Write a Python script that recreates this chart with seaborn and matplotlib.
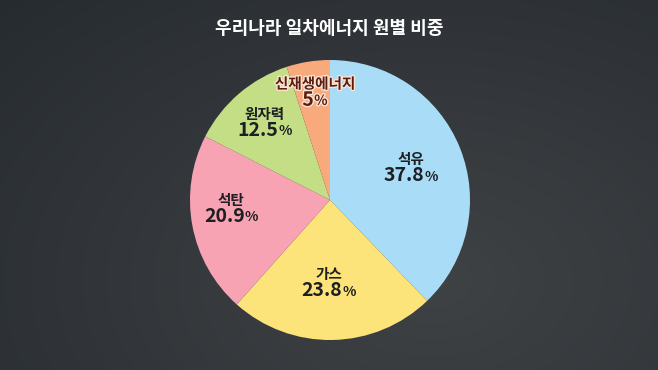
import numpy as np
import matplotlib
matplotlib.use('Agg')
import matplotlib.pyplot as plt
import matplotlib.patheffects as pe
import seaborn as sns

# data
sources = ['석유', '가스', '석탄', '원자력', '신재생에너지']
shares = [37.8, 23.8, 20.9, 12.5, 5]
pct_labels = ['37.8', '23.8', '20.9', '12.5', '5']
colors = ['#a9dcf7', '#fce37a', '#f8a3b3', '#c4de85', '#f9aa7c']
text_colors = ['#1d1f22', '#1d1f22', '#1d1f22', '#1d1f22', '#5a1d10']

sns.set_theme(style='white')
plt.rcParams['font.family'] = ['Noto Sans CJK KR', 'DejaVu Sans']

fig = plt.figure(figsize=(6.58, 3.70), dpi=100)
fig.patch.set_facecolor('#2b3035')

# soft vignette background
bg = fig.add_axes([0, 0, 1, 1])
yy, xx = np.mgrid[0:370, 0:658]
d = np.sqrt(((xx - 430) / 600.0) ** 2 + ((yy - 280) / 400.0) ** 2)
shade = np.clip(1 - d, 0, 1)
base = np.array([0.15, 0.17, 0.19])
top = np.array([0.25, 0.26, 0.27])
img = base + (top - base) * shade[..., None]
bg.imshow(img, aspect='auto', extent=[0, 1, 0, 1])
bg.axis('off')

fig.text(329 / 658, 1 - 29 / 370, '우리나라 일차에너지 원별 비중', color='white',
         fontsize=13, weight='bold', ha='center', va='center')

# pie axes: centre (330, 200), radius 140 px
ax = fig.add_axes([(330 - 140) / 658, (370 - 200 - 140) / 370, 280 / 658, 280 / 370])
wedges, _ = ax.pie(shares, colors=colors, startangle=90, counterclock=False,
                   radius=1, wedgeprops=dict(linewidth=0))
ax.set_xlim(-1, 1)
ax.set_ylim(-1, 1)
ax.set_aspect('equal')
ax.axis('off')

# label placement (distance from centre, angle tweak)
label_r = [0.62, 0.60, 0.71, 0.72, 0.77]
label_da = [-1, -2, -5, 0, -1]

fig.canvas.draw()
renderer = fig.canvas.get_renderer()
for w, name, num, tc, r, da in zip(wedges, sources, pct_labels, text_colors, label_r, label_da):
    ang = np.deg2rad((w.theta1 + w.theta2) / 2 + da)
    x, y = r * np.cos(ang), r * np.sin(ang)
    effects = [pe.withStroke(linewidth=2, foreground='#fbe3d4')] if name == '신재생에너지' else None
    ax.annotate(name, (x, y), xytext=(0, 7), textcoords='offset points', ha='center', va='center',
                fontsize=10.5, weight='bold', color=tc, path_effects=effects)
    t1 = ax.annotate(num, (x, y), xytext=(0, -5), textcoords='offset points', ha='left', va='center',
                     fontsize=14, weight='bold', color=tc, path_effects=effects)
    t2 = ax.annotate('%', (x, y), xytext=(0, -6), textcoords='offset points', ha='left', va='center',
                     fontsize=10, weight='bold', color=tc, path_effects=effects)
    w1 = t1.get_window_extent(renderer).width * 72 / fig.dpi
    w2 = t2.get_window_extent(renderer).width * 72 / fig.dpi
    gap = 0.2
    start = -(w1 + w2 + gap) / 2
    t1.xyann = (start, -5)
    t2.xyann = (start + w1 + gap, -5.5)

fig.savefig('out.png', dpi=100, facecolor=fig.get_facecolor())
